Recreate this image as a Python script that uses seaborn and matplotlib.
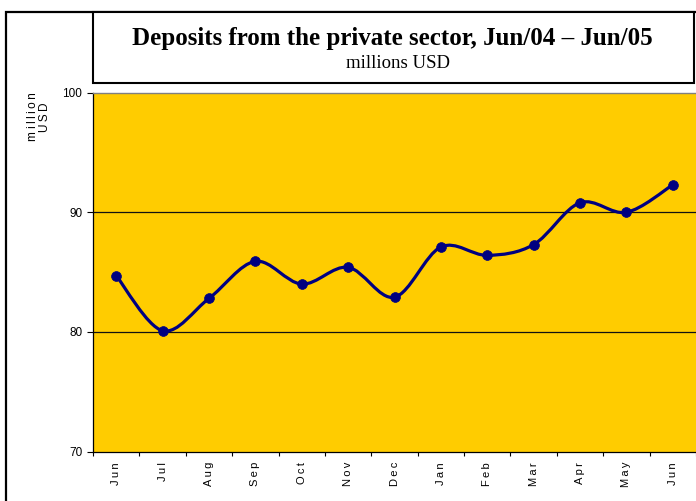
"""Deposits from the private sector, Jun/04 - Jun/05."""
import matplotlib
matplotlib.use("Agg")
import matplotlib.pyplot as plt
import numpy as np
import pandas as pd
import seaborn as sns
from matplotlib.patches import PathPatch, Rectangle
from matplotlib.path import Path

months = ["Jun", "Jul", "Aug", "Sep", "Oct", "Nov", "Dec",
          "Jan", "Feb", "Mar", "Apr", "May", "Jun"]
deposits = [84.7, 80.1, 82.8, 85.9, 84.0, 85.4, 82.9,
            87.1, 86.4, 87.3, 90.8, 90.0, 92.3]
y_ticks = [70, 80, 90, 100]

title = "Deposits from the private sector, Jun/04 \u2013 Jun/05"
subtitle = "millions USD"

LINE = "#000080"
AREA = "#FFCC00"


def spaced(s, gap="\u2009"):
    # spreadsheet-style letter spacing on the axis texts
    return gap.join(s)


sns.set_theme(style="white")
plt.rcParams["font.family"] = ["Liberation Sans", "DejaVu Sans"]

df = pd.DataFrame({"pos": np.arange(len(months)), "value": deposits})

fig = plt.figure(figsize=(6.96, 5.01), dpi=100)
ax = fig.add_axes([93 / 696, 1 - 451.5 / 501, 1 - 93 / 696, (451.5 - 92.7) / 501])
ax.set_facecolor(AREA)

# smoothed line (bezier through the points, like a spreadsheet "smoothed line")
pts = df[["pos", "value"]].to_numpy(dtype=float)
ext = np.vstack([pts[0], pts, pts[-1]])
verts = [tuple(pts[0])]
codes = [Path.MOVETO]
for i in range(1, len(ext) - 2):
    p0, p1, p2, p3 = ext[i - 1], ext[i], ext[i + 1], ext[i + 2]
    c1 = p1 + (p2 - p0) / 6
    c2 = p2 - (p3 - p1) / 6
    verts += [tuple(c1), tuple(c2), tuple(p2)]
    codes += [Path.CURVE4] * 3
ax.add_patch(PathPatch(Path(verts, codes), facecolor="none", edgecolor=LINE,
                       lw=2.3, zorder=3, capstyle="round", joinstyle="round"))

sns.scatterplot(data=df, x="pos", y="value", ax=ax, color=LINE, s=50,
                edgecolor=LINE, linewidth=0.5, zorder=4, legend=False)

ax.set_xlim(-0.5, len(months) - 0.5)
ax.set_ylim(y_ticks[0], y_ticks[-1])
ax.set_yticks(y_ticks)
ax.set_yticklabels([str(t) for t in y_ticks], fontsize=8.5, color="black")
for t in y_ticks[1:-1]:
    ax.axhline(t, color="#111111", lw=0.9, zorder=1)

ax.set_xticks(np.arange(-0.5, len(months), 1.0))
ax.set_xticklabels([])
ax.set_xticks(np.arange(len(months)), minor=True)
ax.set_xticklabels([spaced(m) for m in months], minor=True, rotation=90,
                   fontsize=8, color="black", va="top")
ax.tick_params(axis="x", which="major", direction="out", length=3, width=0.8,
               color="black", bottom=True)
ax.tick_params(axis="x", which="minor", length=0, pad=7.5)
ax.tick_params(axis="y", direction="out", length=4.3, width=0.8, color="black",
               left=True, pad=3.5)
ax.set_xlabel("")
ax.set_ylabel("")
ax.grid(False)

for side in ["left", "bottom"]:
    ax.spines[side].set_color("black")
    ax.spines[side].set_linewidth(0.9)
ax.spines["top"].set_color("#808080")
ax.spines["top"].set_linewidth(1.0)
ax.spines["right"].set_visible(False)

fig.text(39 / 696, 1 - 117 / 501,
         "m " + spaced("illion") + "\n" + spaced("USD"),
         rotation=90, ha="center", va="center",
         fontsize=8.5, color="black", linespacing=1.0)

# outer chart frame and title box
fig.add_artist(Rectangle((5.5 / 696, -0.1), 1.2, 1 - 12 / 501 + 0.1,
                         transform=fig.transFigure, facecolor="none",
                         edgecolor="black", lw=1.6, zorder=0))
fig.add_artist(Rectangle((92.5 / 696, 1 - 82.5 / 501), (694 - 92.5) / 696, 70 / 501,
                         transform=fig.transFigure, facecolor="white",
                         edgecolor="black", lw=1.5, zorder=5))
fig.text(392 / 696, 1 - 38 / 501, title, ha="center", va="center", fontsize=18,
         fontweight="bold", color="black",
         family=["Liberation Serif", "DejaVu Serif"], zorder=6)
fig.text(398 / 696, 1 - 64 / 501, subtitle, ha="center", va="center", fontsize=13.5,
         color="black", family=["Liberation Serif", "DejaVu Serif"], zorder=6)

fig.savefig("out.png", dpi=100)
